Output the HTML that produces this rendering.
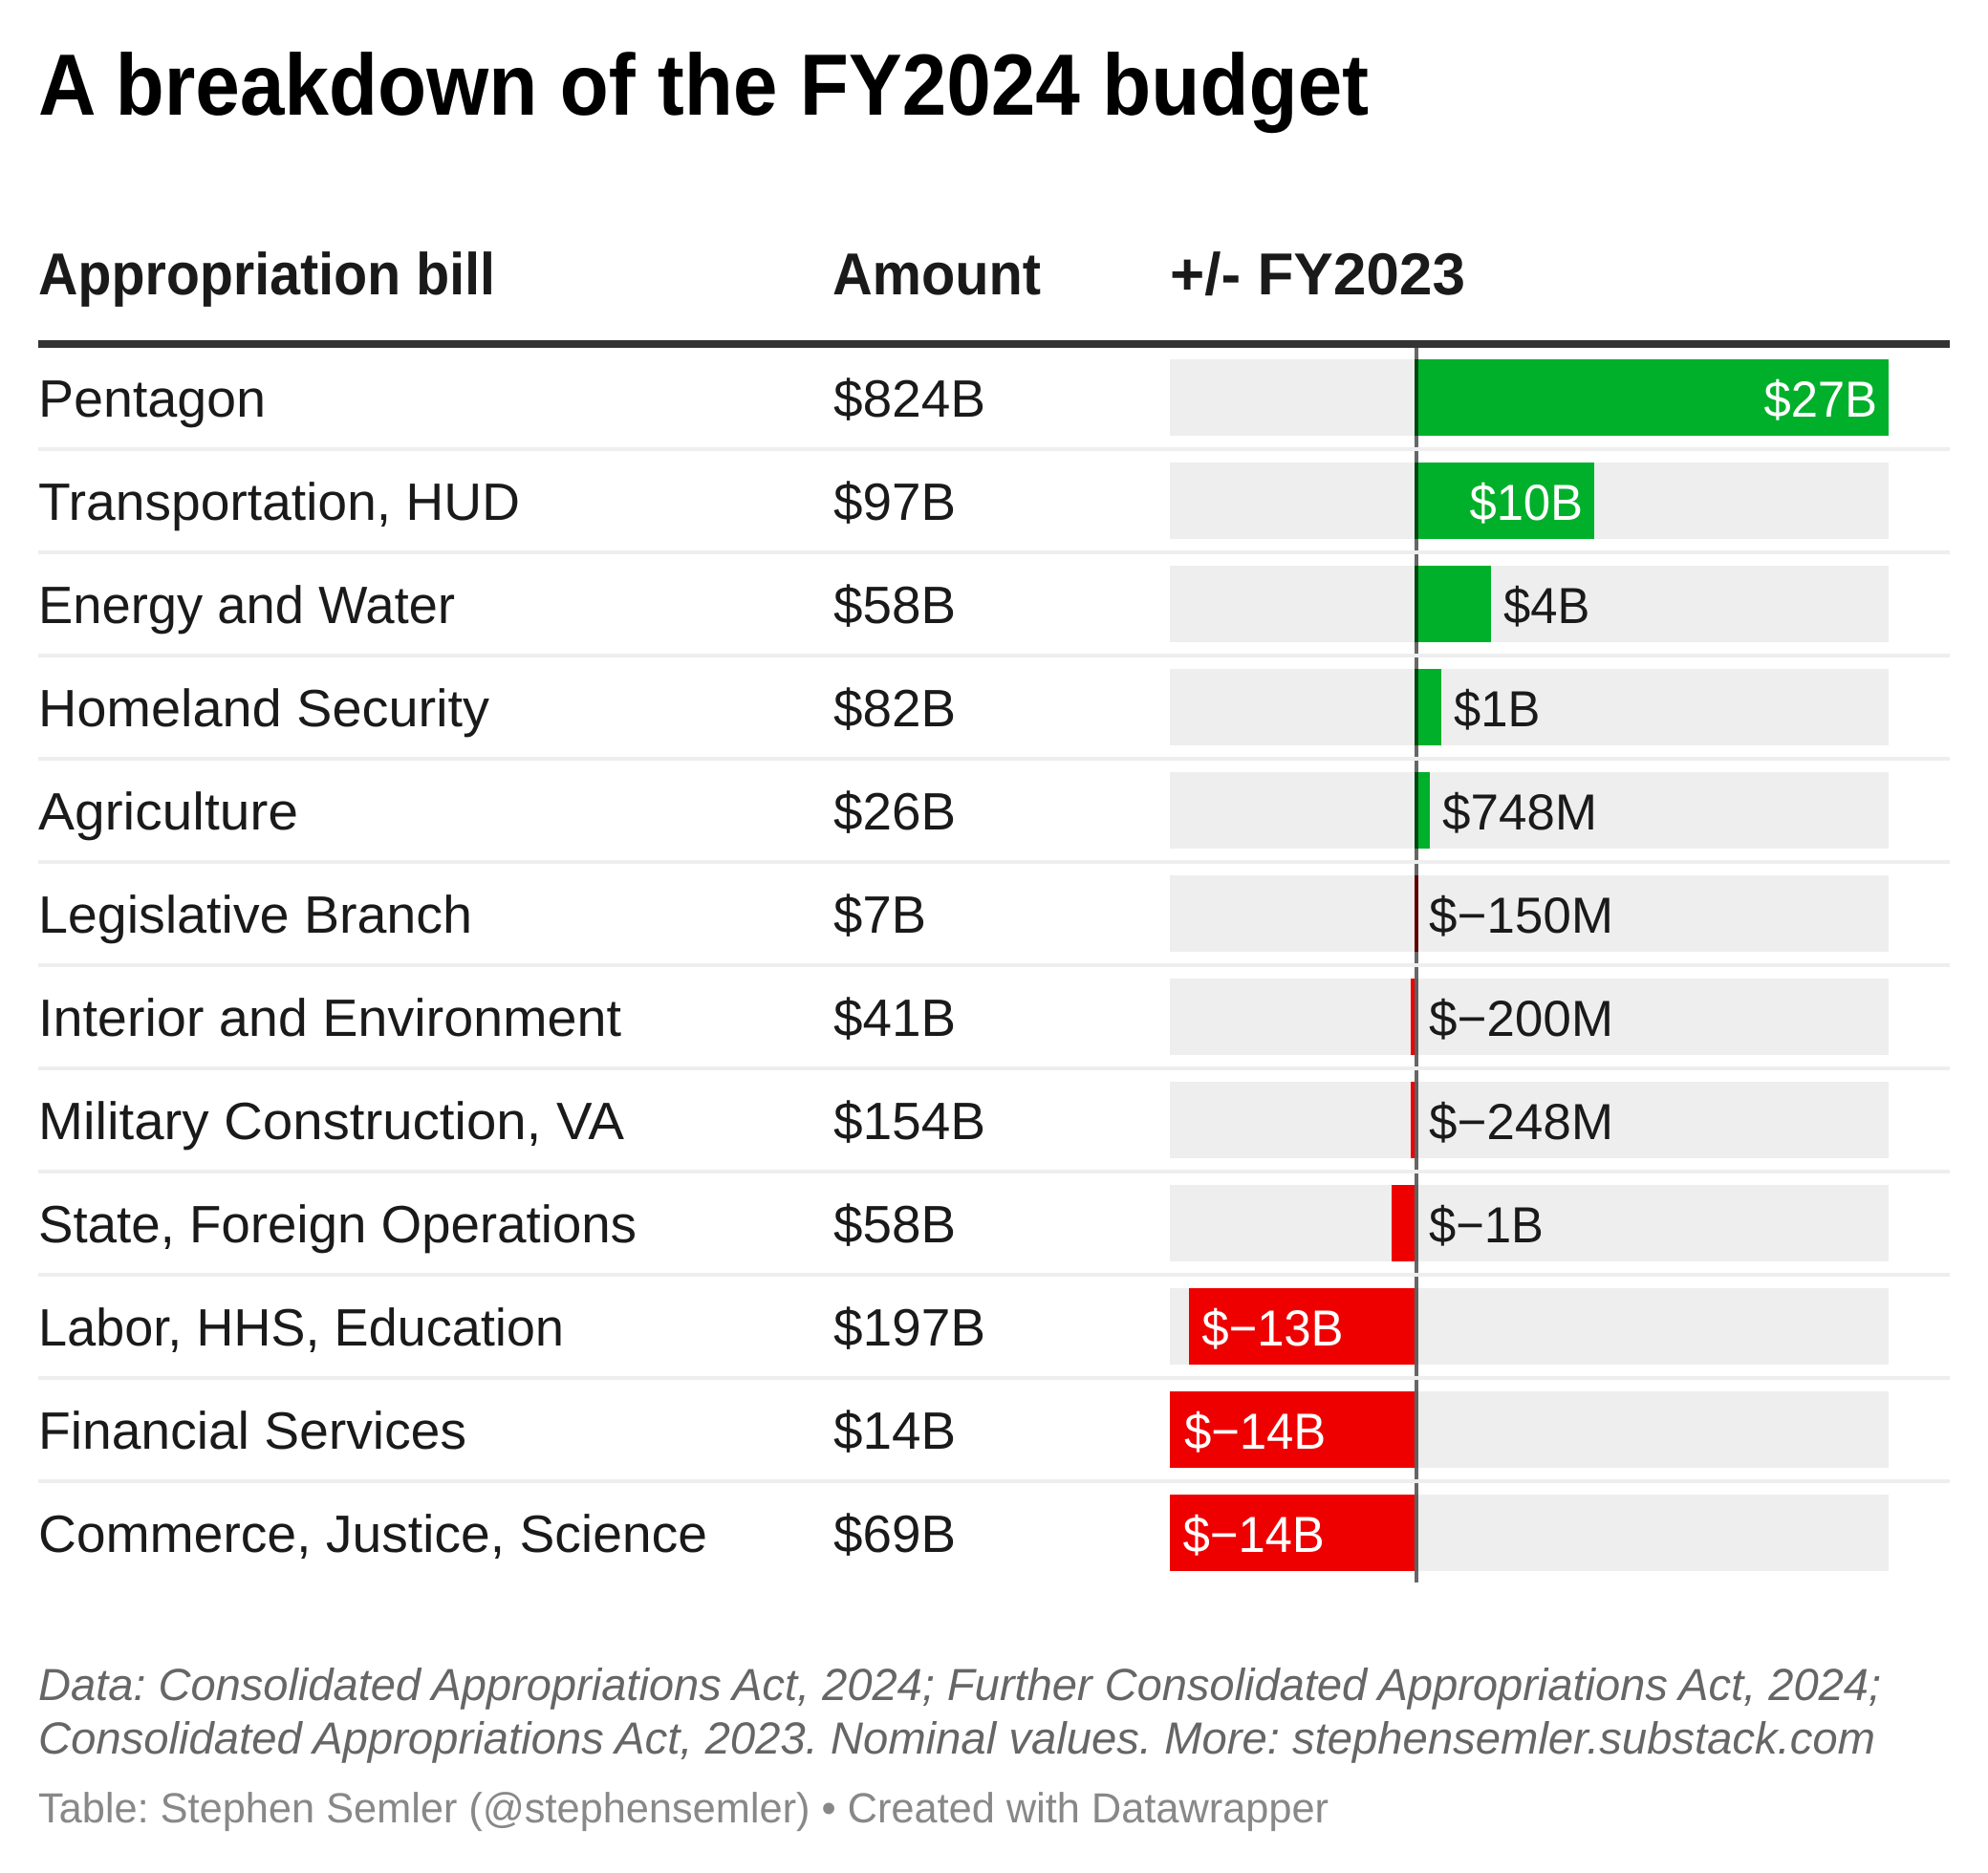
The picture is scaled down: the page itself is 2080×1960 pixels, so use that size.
<!DOCTYPE html>
<html lang="en">
<head>
<meta charset="utf-8">
<title>A breakdown of the FY2024 budget</title>
<style>
html,body{margin:0;padding:0;background:#fff;width:2080px;height:1960px;overflow:hidden}
svg{display:block}
text{font-family:"Liberation Sans",Arial,sans-serif;text-rendering:geometricPrecision}
.h{font-weight:700;font-size:62px;fill:#1a1a1a}
.n{font-size:55px;fill:#1a1a1a}
.a{font-size:55px;fill:#1a1a1a}
.v{font-size:53px}
</style>
</head>
<body>
<svg id="chart" width="2080" height="1960" viewBox="0 0 2080 1960" xmlns="http://www.w3.org/2000/svg">
  <rect width="2080" height="1960" fill="#fff"/>
  <text x="40" y="120" font-size="91" font-weight="700" fill="#000" textLength="1392" lengthAdjust="spacingAndGlyphs">A breakdown of the FY2024 budget</text>

  <text class="h" x="40" y="308" textLength="478" lengthAdjust="spacingAndGlyphs">Appropriation bill</text>
  <text class="h" x="871" y="308" textLength="218" lengthAdjust="spacingAndGlyphs">Amount</text>
  <text class="h" x="1224" y="308" textLength="309" lengthAdjust="spacingAndGlyphs">+/- FY2023</text>

  <g id="tracks"></g>
  <g id="bars"></g>
  <rect x="1480" y="364" width="4" height="1292" fill="#000" fill-opacity="0.6"/>
  <g id="separators"></g>
  <rect x="40" y="356" width="2000" height="8" fill="#333"/>

  <g>
    <text class="n" x="40" y="436" textLength="238" lengthAdjust="spacingAndGlyphs">Pentagon</text>
    <text class="n" x="40" y="544" textLength="504" lengthAdjust="spacingAndGlyphs">Transportation, HUD</text>
    <text class="n" x="40" y="652" textLength="436" lengthAdjust="spacingAndGlyphs">Energy and Water</text>
    <text class="n" x="40" y="760" textLength="472" lengthAdjust="spacingAndGlyphs">Homeland Security</text>
    <text class="n" x="40" y="868" textLength="272" lengthAdjust="spacingAndGlyphs">Agriculture</text>
    <text class="n" x="40" y="976" textLength="454" lengthAdjust="spacingAndGlyphs">Legislative Branch</text>
    <text class="n" x="40" y="1084" textLength="610" lengthAdjust="spacingAndGlyphs">Interior and Environment</text>
    <text class="n" x="40" y="1192" textLength="613" lengthAdjust="spacingAndGlyphs">Military Construction, VA</text>
    <text class="n" x="40" y="1300" textLength="626" lengthAdjust="spacingAndGlyphs">State, Foreign Operations</text>
    <text class="n" x="40" y="1408" textLength="550" lengthAdjust="spacingAndGlyphs">Labor, HHS, Education</text>
    <text class="n" x="40" y="1516" textLength="448" lengthAdjust="spacingAndGlyphs">Financial Services</text>
    <text class="n" x="40" y="1624" textLength="700" lengthAdjust="spacingAndGlyphs">Commerce, Justice, Science</text>
  </g>

  <g>
    <text class="a" x="872" y="436" textLength="159" lengthAdjust="spacingAndGlyphs">$824B</text>
    <text class="a" x="872" y="544" textLength="128" lengthAdjust="spacingAndGlyphs">$97B</text>
    <text class="a" x="872" y="652" textLength="128" lengthAdjust="spacingAndGlyphs">$58B</text>
    <text class="a" x="872" y="760" textLength="128" lengthAdjust="spacingAndGlyphs">$82B</text>
    <text class="a" x="872" y="868" textLength="128" lengthAdjust="spacingAndGlyphs">$26B</text>
    <text class="a" x="872" y="976" textLength="97" lengthAdjust="spacingAndGlyphs">$7B</text>
    <text class="a" x="872" y="1084" textLength="128" lengthAdjust="spacingAndGlyphs">$41B</text>
    <text class="a" x="872" y="1192" textLength="159" lengthAdjust="spacingAndGlyphs">$154B</text>
    <text class="a" x="872" y="1300" textLength="128" lengthAdjust="spacingAndGlyphs">$58B</text>
    <text class="a" x="872" y="1408" textLength="159" lengthAdjust="spacingAndGlyphs">$197B</text>
    <text class="a" x="872" y="1516" textLength="128" lengthAdjust="spacingAndGlyphs">$14B</text>
    <text class="a" x="872" y="1624" textLength="128" lengthAdjust="spacingAndGlyphs">$69B</text>
  </g>

  <g id="value-labels"></g>

  <text x="40" y="1779" font-size="47" font-style="italic" fill="#666" textLength="1928" lengthAdjust="spacingAndGlyphs">Data: Consolidated Appropriations Act, 2024; Further Consolidated Appropriations Act, 2024;</text>
  <text x="40" y="1835" font-size="47" font-style="italic" fill="#666" textLength="1922" lengthAdjust="spacingAndGlyphs">Consolidated Appropriations Act, 2023. Nominal values. More: stephensemler.substack.com</text>
  <text x="40" y="1907" font-size="44" fill="#888" textLength="1350" lengthAdjust="spacingAndGlyphs">Table: Stephen Semler (@stephensemler) • Created with Datawrapper</text>
</svg>
<script>
const changeValues = [27, 10.2, 4.3, 1.4, 0.748, -0.15, -0.2, -0.248, -1.3, -13, -14, -14.08];
const changeLabels = ["$27B", "$10B", "$4B", "$1B", "$748M", "$\u2212150M", "$\u2212200M", "$\u2212248M", "$\u22121B", "$\u221213B", "$\u221214B", "$\u221214B"];

const NS = "http://www.w3.org/2000/svg";
const pxPerBillion = 18.28;
const zeroX = 1480;
const trackLeft = 1224;
const trackWidth = 752;
const rowTop = function (i) { return 376 + 108 * i; };
const snap = function (x) { return Math.round(x / 4) * 4; };
const tracksGroup = document.getElementById("tracks");
const barsGroup = document.getElementById("bars");
const sepGroup = document.getElementById("separators");
const labelGroup = document.getElementById("value-labels");

changeValues.forEach(function (value, i) {
  const track = document.createElementNS(NS, "rect");
  
  
  track.setAttribute("x", trackLeft);
  track.setAttribute("y", rowTop(i));
  track.setAttribute("width", trackWidth);
  track.setAttribute("height", 80);
  track.setAttribute("fill", "#eee");
  tracksGroup.appendChild(track);

  const length = Math.abs(value) * pxPerBillion;
  let left, right;
  if (value >= 0) {
    left = zeroX;
    right = snap(zeroX + 2 + length);
  } else if (length < 3) {
    left = zeroX;
    right = zeroX + 4;
  } else {
    left = snap(zeroX - length);
    right = zeroX;
  }
  const bar = document.createElementNS(NS, "rect");
  
  
  bar.setAttribute("x", left);
  bar.setAttribute("y", rowTop(i));
  bar.setAttribute("width", right - left);
  bar.setAttribute("height", 80);
  bar.setAttribute("fill", value >= 0 ? "#00b02a" : "#ee0000");
  barsGroup.appendChild(bar);

  const inside = length > 150;
  const label = document.createElementNS(NS, "text");
  
  
  label.setAttribute("class", "v");
  label.setAttribute("y", rowTop(i) + 60);
  label.setAttribute("fill", inside ? "#fff" : "#1a1a1a");
  if (value >= 0 && inside) {
    label.setAttribute("x", right - 12);
    label.setAttribute("text-anchor", "end");
  } else if (value >= 0) {
    label.setAttribute("x", right + 13);
  } else if (inside) {
    label.setAttribute("x", zeroX - length + 15);
  } else {
    label.setAttribute("x", zeroX + 15);
  }
  label.textContent = changeLabels[i];
  labelGroup.appendChild(label);
  if (changeLabels[i].endsWith("B")) {
    label.setAttribute("textLength", (label.getComputedTextLength() * 0.957).toFixed(1));
    label.setAttribute("lengthAdjust", "spacingAndGlyphs");
  }

  if (i < changeValues.length - 1) {
    const sep = document.createElementNS(NS, "rect");
    
    
    sep.setAttribute("x", 40);
    sep.setAttribute("y", rowTop(i) + 92);
    sep.setAttribute("width", 2000);
    sep.setAttribute("height", 4);
    sep.setAttribute("fill", "#eee");
    sepGroup.appendChild(sep);
  }
});
</script>
</body>
</html>
